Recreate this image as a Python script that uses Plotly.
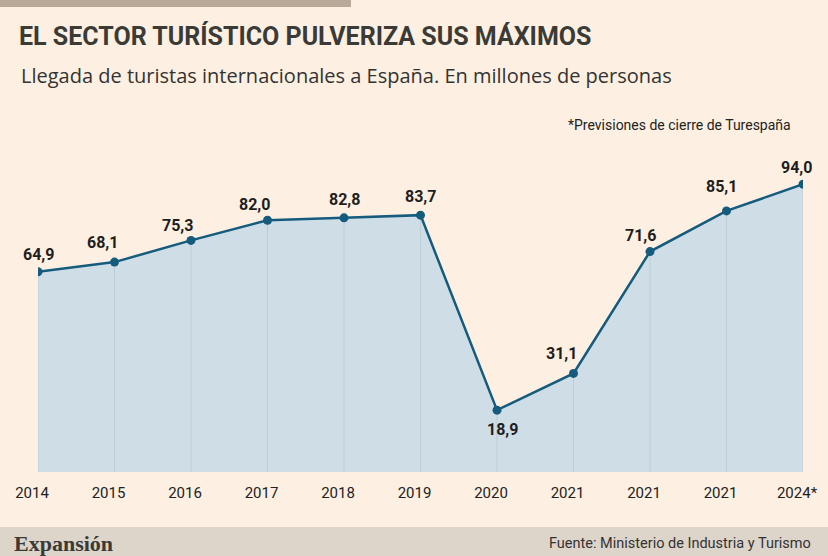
import plotly.graph_objects as go

years = ["2014", "2015", "2016", "2017", "2018", "2019", "2020", "2021", "2021", "2021", "2024*"]
values = [64.9, 68.1, 75.3, 82.0, 82.8, 83.7, 18.9, 31.1, 71.6, 85.1, 94.0]

# label nudges in pixels (dx, dy) relative to each point
label_dx = [0, -12, -14, -13, 0, 0, 5, -12, -10, -5, -7]
label_dy = [17, 20, 15, 16, 18, 19, -19, 20, 16, 24, 17]

W, H = 828, 556
ML, MR, MT, MB = 38, 25, 150, 84
PW, PH = W - ML - MR, H - MT - MB

def px(xp):
    return (xp - ML) / PW

def py(yp):
    return (H - MB - yp) / PH

YMIN, YMAX = -1.66, 105.35
xs = list(range(len(values)))

BG = "#fdf0e2"
FILL = "#cfdee6"
LINE = "#155b7d"
COND = "Roboto, sans-serif"

fig = go.Figure()

# faint vertical guide lines within the filled area
gx, gy = [], []
for x, v in zip(xs, values):
    gx += [x, x, None]
    gy += [YMIN, v, None]
fig.add_trace(go.Scatter(x=xs, y=[YMIN] * len(xs), mode="lines", line=dict(width=0),
                         hoverinfo="skip", showlegend=False))
fig.add_trace(go.Scatter(x=xs, y=values, mode="lines", line=dict(width=0), fill="tonexty",
                         fillcolor=FILL, hoverinfo="skip", showlegend=False))
fig.add_trace(go.Scatter(x=gx, y=gy, mode="lines", line=dict(color="#bccdd7", width=1),
                         hoverinfo="skip", showlegend=False))
fig.add_trace(go.Scatter(x=xs, y=values, mode="lines+markers",
                         line=dict(color=LINE, width=2.5),
                         marker=dict(color=LINE, size=9),
                         showlegend=False))

for x, v, dx, dy in zip(xs, values, label_dx, label_dy):
    fig.add_annotation(x=x, y=v, xref="x", yref="y",
                       text=f"{v:.1f}".replace(".", ","),
                       showarrow=False, yshift=dy, xshift=dx,
                       font=dict(family="Roboto, sans-serif", size=16, color="#1e1e1e", weight="bold"))

# header / footer decoration
fig.add_shape(type="rect", xref="paper", yref="paper", x0=px(0), x1=px(351), y0=py(7), y1=py(0),
              fillcolor="#b9a999", line=dict(width=0), layer="below")
fig.add_shape(type="rect", xref="paper", yref="paper", x0=px(0), x1=px(W), y0=py(H), y1=py(527),
              fillcolor="#ddd4ca", line=dict(width=0), layer="below")

fig.add_annotation(xref="paper", yref="paper", x=px(17), y=py(36), xanchor="left", yanchor="middle",
                   text="EL SECTOR TURÍSTICO PULVERIZA SUS MÁXIMOS", showarrow=False,
                   font=dict(family=COND, size=25, color="#3a3a36", weight="bold"))
fig.add_annotation(xref="paper", yref="paper", x=px(19), y=py(76), xanchor="left", yanchor="middle",
                   text="Llegada de turistas internacionales a España. En millones de personas", showarrow=False,
                   font=dict(family="Open Sans, sans-serif", size=20, color="#333333"))
fig.add_annotation(xref="paper", yref="paper", x=px(793), y=py(125), xanchor="right", yanchor="middle",
                   text="*Previsiones de cierre de Turespaña", showarrow=False,
                   font=dict(family=COND, size=14, color="#222222"))
fig.add_annotation(xref="paper", yref="paper", x=px(12), y=py(543), xanchor="left", yanchor="middle",
                   text="Expansión", showarrow=False,
                   font=dict(family="Liberation Serif, DejaVu Serif, serif", size=22, color="#3a3a36", weight="bold"))
fig.add_annotation(xref="paper", yref="paper", x=px(813), y=py(543), xanchor="right", yanchor="middle",
                   text="Fuente: Ministerio de Industria y Turismo", showarrow=False,
                   font=dict(family=COND, size=14.5, color="#333333"))

fig.update_xaxes(range=[0, 10], tickmode="array", tickvals=xs, ticktext=years,
                 showgrid=False, zeroline=False, showline=False, ticks="", automargin=False,
                 tickfont=dict(family=COND, size=15, color="#222222"),
                 ticklabelstandoff=10, ticklabelshift=-6)
fig.update_yaxes(range=[YMIN, YMAX], visible=False, showgrid=False, zeroline=False, automargin=False)

fig.update_layout(width=W, height=H, margin=dict(l=ML, r=MR, t=MT, b=MB, autoexpand=False),
                  paper_bgcolor=BG, plot_bgcolor=BG, hovermode=False)

fig.write_html("out.html")
